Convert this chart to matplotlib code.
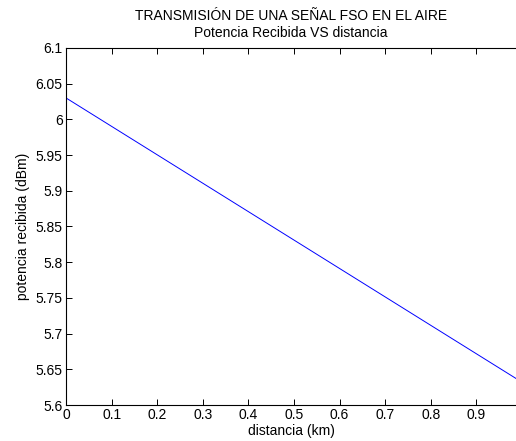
import matplotlib
matplotlib.use("Agg")
import matplotlib.pyplot as plt

# potencia recibida a lo largo del enlace FSO
distancia = [0.0, 1.0]
potencia = [6.03, 5.632]

yticks = [5.6, 5.65, 5.7, 5.75, 5.8, 5.85, 5.9, 5.95, 6.0, 6.05, 6.1]
ytick_labels = ["5.6", "5.65", "5.7", "5.75", "5.8", "5.85", "5.9", "5.95", "6", "6.05", "6.1"]
xticks = [0, 0.1, 0.2, 0.3, 0.4, 0.5, 0.6, 0.7, 0.8, 0.9]
xtick_labels = ["0", "0.1", "0.2", "0.3", "0.4", "0.5", "0.6", "0.7", "0.8", "0.9"]

plt.rcParams["font.family"] = ["Liberation Sans", "DejaVu Sans"]
plt.rcParams["font.size"] = 10

fig = plt.figure(figsize=(5.16, 4.41), dpi=100)
ax = fig.add_axes([0.128, 0.0816, 0.872, 0.8096])

ax.plot(distancia, potencia, color="#0000ff", linewidth=0.7)

ax.set_xlim(0, 0.987)
ax.set_ylim(5.6, 6.1)
ax.set_xticks(xticks)
ax.set_xticklabels(xtick_labels)
ax.set_yticks(yticks)
ax.set_yticklabels(ytick_labels)
ax.tick_params(direction="in", top=True, right=False, length=4.5, width=0.7, pad=2.5)
for side in ("left", "bottom", "top"):
    ax.spines[side].set_linewidth(0.8)
ax.spines["right"].set_visible(False)

ax.set_xlabel("distancia (km)", labelpad=1)
ax.set_ylabel("potencia recibida (dBm)", labelpad=4)
ax.set_title("TRANSMISIÓN DE UNA SEÑAL FSO EN EL AIRE\nPotencia Recibida VS distancia",
             fontsize=10, linespacing=1.25, pad=8)

fig.savefig("out.png", dpi=100)
